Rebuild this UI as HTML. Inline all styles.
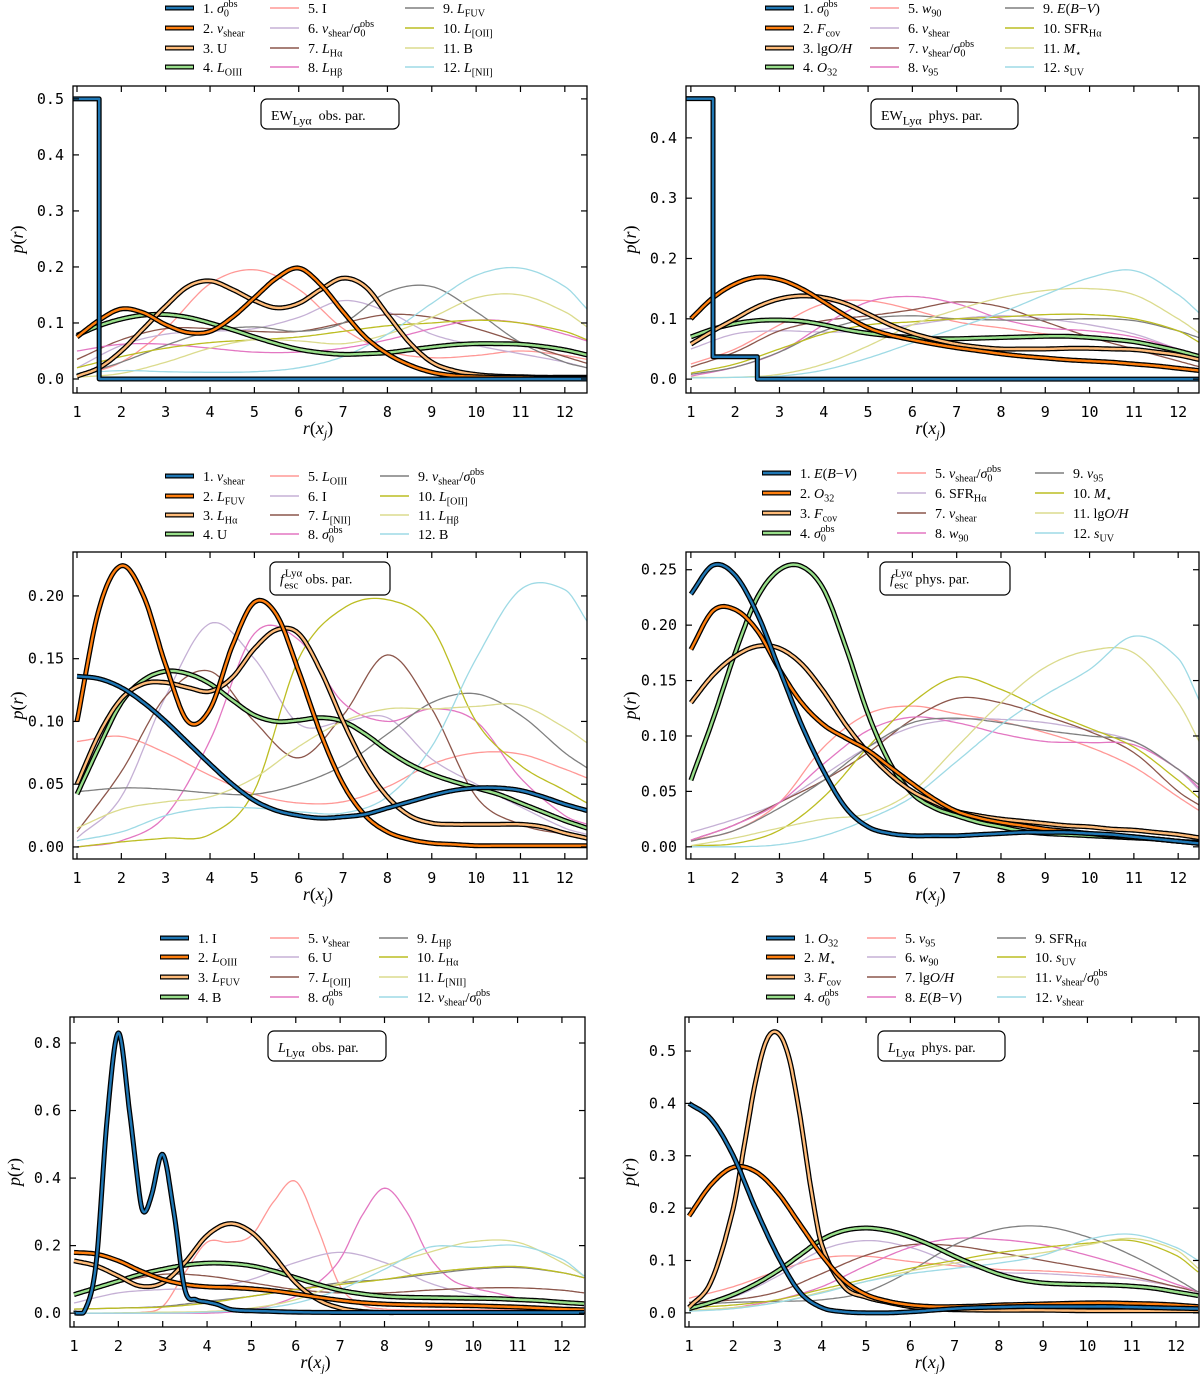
<!DOCTYPE html>
<html><head><meta charset="utf-8"><title>p(r) distributions</title>
<style>
html,body{margin:0;padding:0;background:#fff;}
svg{display:block;}
.tick{font-family:"DejaVu Sans Mono","Liberation Mono",monospace;font-size:15px;fill:#000;}
.lab{font-family:"Liberation Serif",serif;font-size:14px;fill:#000;}
.ax{font-family:"Liberation Serif",serif;font-size:18px;font-style:italic;fill:#000;}
</style></head>
<body>
<svg id="fig" width="1200" height="1374" viewBox="0 0 1200 1374" xmlns="http://www.w3.org/2000/svg"></svg>
<script>
// ---------- shared grids (data units) ----------
const HALF = [1,1.5,2,2.5,3,3.5,4,4.5,5,5.5,6,6.5,7,7.5,8,8.5,9,9.5,10,10.5,11,11.5,12,12.5];
const INT = [1,2,3,4,5,6,7,8,9,10,11,12,12.5];
const colors = ['#1f77b4','#ff7f0e','#ffbb78','#98df8a','#ff9896','#c5b0d5','#8c564b','#e377c2','#7f7f7f','#bcbd22','#dbdb8d','#9edae5'];

// ---------- Panel 1: EW obs ----------
const p1_labels = ['1. ~{σ}_{0}^{obs}','2. ~{v}_{shear}','3. U','4. ~{L}_{OIII}','5. I','6. ~{v}_{shear}/~{σ}_{0}^{obs}','7. ~{L}_{Hα}','8. ~{L}_{Hβ}','9. ~{L}_{FUV}','10. ~{L}_{[OII]}','11. B','12. ~{L}_{[NII]}'];
const p1_step_x = [0.8,1.5,12.6];
const p1_step_y = [0.5,0.0];
const p1_s2 = [0.075,0.105,0.125,0.118,0.097,0.083,0.085,0.11,0.145,0.18,0.198,0.168,0.12,0.075,0.045,0.025,0.012,0.006,0.004,0.003,0.003,0.002,0.002,0.002];
const p1_s3 = [0.005,0.02,0.05,0.09,0.13,0.165,0.175,0.16,0.14,0.127,0.135,0.16,0.18,0.165,0.115,0.065,0.03,0.015,0.008,0.005,0.004,0.003,0.003,0.003];
const p1_s4 = [0.078,0.095,0.107,0.114,0.115,0.11,0.1,0.088,0.075,0.063,0.053,0.047,0.044,0.045,0.047,0.052,0.057,0.061,0.063,0.063,0.062,0.058,0.052,0.043];
const p1_s5 = [0.005,0.03,0.09,0.17,0.195,0.16,0.09,0.05,0.038,0.042,0.05,0.042,0.035];
const p1_s6 = [0.02,0.06,0.08,0.085,0.09,0.11,0.14,0.12,0.08,0.06,0.045,0.03,0.02];
const p1_s7 = [0.035,0.07,0.09,0.09,0.085,0.085,0.1,0.115,0.11,0.09,0.065,0.04,0.028];
const p1_s8 = [0.05,0.062,0.062,0.055,0.048,0.048,0.055,0.07,0.09,0.105,0.1,0.08,0.068];
const p1_s9 = [0.005,0.03,0.06,0.085,0.093,0.085,0.1,0.155,0.165,0.12,0.065,0.03,0.02];
const p1_s10 = [0.02,0.04,0.055,0.065,0.07,0.075,0.085,0.095,0.1,0.105,0.1,0.085,0.07];
const p1_s11 = [0.003,0.01,0.03,0.055,0.07,0.068,0.063,0.08,0.11,0.145,0.15,0.12,0.093];
const p1_s12 = [0.01,0.015,0.013,0.012,0.013,0.02,0.04,0.08,0.135,0.185,0.198,0.165,0.125];
const p1_yticks = ['0.0','0.1','0.2','0.3','0.4','0.5'];

// ---------- Panel 2: EW phys ----------
const p2_labels = ['1. ~{σ}_{0}^{obs}','2. ~{F}_{cov}','3. lg~{O/H}','4. ~{O}_{32}','5. ~{w}_{90}','6. ~{v}_{shear}','7. ~{v}_{shear}/~{σ}_{0}^{obs}','8. ~{v}_{95}','9. ~{E}(~{B}−~{V})','10. SFR_{Hα}','11. ~{M}_{⋆}','12. ~{s}_{UV}'];
const p2_step_x = [0.8,1.5,2.5,12.6];
const p2_step_y = [0.465,0.037,0.0];
const p2_s2 = [0.1,0.135,0.158,0.169,0.165,0.15,0.128,0.105,0.085,0.073,0.065,0.058,0.052,0.047,0.042,0.038,0.035,0.032,0.03,0.028,0.025,0.022,0.018,0.014];
const p2_s3 = [0.058,0.08,0.1,0.12,0.133,0.138,0.135,0.125,0.108,0.09,0.076,0.066,0.058,0.053,0.05,0.05,0.05,0.051,0.051,0.05,0.049,0.045,0.04,0.032];
const p2_s4 = [0.07,0.083,0.092,0.097,0.098,0.096,0.09,0.082,0.076,0.072,0.069,0.067,0.067,0.068,0.069,0.07,0.071,0.071,0.069,0.066,0.062,0.055,0.047,0.037];
const p2_s5 = [0.025,0.05,0.09,0.125,0.13,0.115,0.095,0.085,0.075,0.07,0.06,0.045,0.035];
const p2_s6 = [0.05,0.075,0.08,0.078,0.08,0.09,0.1,0.105,0.1,0.09,0.075,0.05,0.04];
const p2_s7 = [0.02,0.045,0.08,0.097,0.105,0.115,0.128,0.12,0.095,0.07,0.05,0.03,0.02];
const p2_s8 = [0.005,0.02,0.045,0.09,0.128,0.137,0.125,0.1,0.085,0.08,0.07,0.05,0.04];
const p2_s9 = [0.008,0.02,0.045,0.08,0.1,0.105,0.1,0.098,0.098,0.1,0.097,0.08,0.068];
const p2_s10 = [0.01,0.025,0.05,0.075,0.09,0.095,0.1,0.103,0.107,0.107,0.1,0.08,0.06];
const p2_s11 = [0.003,0.003,0.008,0.025,0.055,0.09,0.115,0.135,0.147,0.15,0.14,0.1,0.075];
const p2_s12 = [0.002,0.003,0.005,0.015,0.035,0.06,0.085,0.11,0.14,0.168,0.18,0.14,0.108];
const p2_yticks = ['0.0','0.1','0.2','0.3','0.4'];

// ---------- Panel 3: fesc obs ----------
const p3_labels = ['1. ~{v}_{shear}','2. ~{L}_{FUV}','3. ~{L}_{Hα}','4. U','5. ~{L}_{OIII}','6. I','7. ~{L}_{[NII]}','8. ~{σ}_{0}^{obs}','9. ~{v}_{shear}/~{σ}_{0}^{obs}','10. ~{L}_{[OII]}','11. ~{L}_{Hβ}','12. B'];
const p3_s1 = [0.136,0.134,0.127,0.115,0.1,0.083,0.066,0.05,0.037,0.029,0.025,0.023,0.024,0.026,0.031,0.036,0.041,0.045,0.047,0.047,0.045,0.04,0.034,0.029];
const p3_s2 = [0.1,0.19,0.224,0.2,0.145,0.1,0.11,0.16,0.195,0.185,0.14,0.09,0.05,0.025,0.012,0.006,0.003,0.002,0.001,0.001,0.001,0.001,0.001,0.001];
const p3_s3 = [0.05,0.09,0.118,0.13,0.131,0.127,0.124,0.135,0.158,0.173,0.17,0.14,0.1,0.065,0.04,0.025,0.019,0.018,0.018,0.018,0.018,0.016,0.011,0.007];
const p3_s4 = [0.042,0.08,0.115,0.133,0.14,0.138,0.13,0.117,0.105,0.1,0.101,0.103,0.1,0.09,0.077,0.066,0.058,0.052,0.047,0.042,0.035,0.028,0.021,0.015];
const p3_s5 = [0.084,0.088,0.075,0.057,0.042,0.035,0.036,0.048,0.066,0.075,0.074,0.062,0.055];
const p3_s6 = [0.007,0.04,0.12,0.178,0.15,0.098,0.1,0.103,0.07,0.05,0.032,0.015,0.01];
const p3_s7 = [0.012,0.06,0.12,0.14,0.1,0.071,0.105,0.153,0.11,0.04,0.018,0.01,0.007];
const p3_s8 = [0.0,0.005,0.025,0.085,0.17,0.165,0.115,0.1,0.11,0.1,0.055,0.025,0.018];
const p3_s9 = [0.044,0.047,0.046,0.043,0.042,0.05,0.065,0.09,0.115,0.122,0.105,0.075,0.063];
const p3_s10 = [0.0,0.004,0.007,0.01,0.045,0.15,0.19,0.197,0.175,0.1,0.065,0.045,0.035];
const p3_s11 = [0.015,0.03,0.036,0.04,0.055,0.08,0.1,0.11,0.11,0.112,0.113,0.095,0.083];
const p3_s12 = [0.005,0.012,0.025,0.031,0.031,0.028,0.027,0.04,0.08,0.15,0.205,0.205,0.18];
const p3_yticks = ['0.00','0.05','0.10','0.15','0.20'];

// ---------- Panel 4: fesc phys ----------
const p4_labels = ['1. ~{E}(~{B}−~{V})','2. ~{O}_{32}','3. ~{F}_{cov}','4. ~{σ}_{0}^{obs}','5. ~{v}_{shear}/~{σ}_{0}^{obs}','6. SFR_{Hα}','7. ~{v}_{shear}','8. ~{w}_{90}','9. ~{v}_{95}','10. ~{M}_{⋆}','11. lg~{O/H}','12. ~{s}_{UV}'];
const p4_s1 = [0.228,0.254,0.245,0.21,0.16,0.11,0.068,0.035,0.018,0.012,0.01,0.01,0.01,0.011,0.012,0.013,0.013,0.013,0.012,0.011,0.009,0.007,0.005,0.003];
const p4_s2 = [0.178,0.213,0.214,0.195,0.16,0.13,0.11,0.098,0.087,0.072,0.057,0.043,0.032,0.026,0.022,0.019,0.016,0.014,0.012,0.01,0.009,0.007,0.005,0.003];
const p4_s3 = [0.13,0.155,0.172,0.181,0.179,0.165,0.14,0.11,0.085,0.065,0.05,0.04,0.032,0.028,0.025,0.023,0.021,0.019,0.018,0.016,0.015,0.013,0.011,0.008];
const p4_s4 = [0.06,0.115,0.175,0.225,0.25,0.253,0.232,0.18,0.12,0.075,0.048,0.035,0.028,0.022,0.018,0.014,0.012,0.011,0.01,0.009,0.008,0.007,0.005,0.004];
const p4_s5 = [0.006,0.015,0.04,0.09,0.12,0.127,0.12,0.113,0.103,0.09,0.072,0.045,0.032];
const p4_s6 = [0.013,0.025,0.04,0.065,0.09,0.108,0.115,0.115,0.112,0.105,0.095,0.07,0.05];
const p4_s7 = [0.006,0.02,0.04,0.06,0.085,0.115,0.134,0.13,0.118,0.104,0.085,0.05,0.037];
const p4_s8 = [0.006,0.02,0.04,0.075,0.105,0.117,0.112,0.102,0.095,0.094,0.092,0.07,0.052];
const p4_s9 = [0.005,0.015,0.035,0.06,0.09,0.112,0.116,0.112,0.105,0.1,0.095,0.07,0.055];
const p4_s10 = [0.001,0.003,0.015,0.045,0.09,0.13,0.153,0.142,0.123,0.107,0.09,0.06,0.043];
const p4_s11 = [0.001,0.008,0.017,0.025,0.03,0.05,0.09,0.13,0.162,0.177,0.175,0.13,0.093];
const p4_s12 = [0.0,0.0,0.002,0.01,0.025,0.045,0.077,0.11,0.137,0.16,0.19,0.17,0.13];
const p4_yticks = ['0.00','0.05','0.10','0.15','0.20','0.25'];

// ---------- Panel 5: L obs ----------
const p5_labels = ['1. I','2. ~{L}_{OIII}','3. ~{L}_{FUV}','4. B','5. ~{v}_{shear}','6. U','7. ~{L}_{[OII]}','8. ~{σ}_{0}^{obs}','9. ~{L}_{Hβ}','10. ~{L}_{Hα}','11. ~{L}_{[NII]}','12. ~{v}_{shear}/~{σ}_{0}^{obs}'];
const p5_s1_x = [1,1.25,1.5,1.75,2,2.25,2.5,2.6,2.75,3,3.25,3.5,3.75,4,4.25,4.5,4.75,5,6,7,8,9,10,11,12,12.5];
const p5_s1 = [0.0,0.01,0.15,0.58,0.83,0.6,0.33,0.3,0.35,0.47,0.3,0.07,0.04,0.033,0.025,0.012,0.008,0.007,0.003,0.002,0.002,0.002,0.002,0.002,0.002,0.002];
const p5_s2 = [0.18,0.175,0.155,0.125,0.1,0.085,0.078,0.076,0.072,0.066,0.057,0.047,0.038,0.031,0.027,0.025,0.024,0.023,0.022,0.02,0.018,0.015,0.012,0.01];
const p5_s3 = [0.155,0.14,0.11,0.08,0.09,0.15,0.23,0.265,0.24,0.17,0.09,0.04,0.015,0.005,0.002,0.002,0.002,0.002,0.002,0.002,0.002,0.002,0.002,0.002];
const p5_s4 = [0.055,0.075,0.095,0.115,0.13,0.142,0.148,0.147,0.14,0.125,0.105,0.085,0.068,0.057,0.05,0.047,0.046,0.045,0.044,0.043,0.04,0.037,0.032,0.028];
const p5_s5 = [0,0,0,0.002,0.02,0.12,0.21,0.21,0.23,0.33,0.39,0.25,0.08,0.025,0.012,0.01,0.01,0.01,0.01,0.01,0.01,0.01,0.008,0.006];
const p5_s6 = [0.03,0.06,0.07,0.075,0.1,0.15,0.18,0.15,0.09,0.055,0.04,0.03,0.025];
const p5_s7 = [0.055,0.09,0.115,0.11,0.09,0.07,0.06,0.06,0.068,0.074,0.075,0.068,0.06];
const p5_s8 = [0,0,0,0,0,0,0,0.003,0.01,0.025,0.05,0.09,0.16,0.29,0.37,0.3,0.17,0.1,0.075,0.06,0.045,0.035,0.028,0.022];
const p5_s9 = [0.012,0.015,0.02,0.035,0.05,0.07,0.09,0.1,0.115,0.13,0.135,0.12,0.105];
const p5_s10 = [0.012,0.015,0.018,0.03,0.05,0.07,0.085,0.1,0.12,0.133,0.138,0.12,0.105];
const p5_s11 = [0.0,0.001,0.003,0.005,0.015,0.04,0.09,0.14,0.18,0.212,0.21,0.15,0.11];
const p5_s12 = [0,0,0,0.003,0.01,0.03,0.07,0.13,0.195,0.195,0.2,0.16,0.11];
const p5_yticks = ['0.0','0.2','0.4','0.6','0.8'];

// ---------- Panel 6: L phys ----------
const p6_labels = ['1. ~{O}_{32}','2. ~{M}_{⋆}','3. ~{F}_{cov}','4. ~{σ}_{0}^{obs}','5. ~{v}_{95}','6. ~{w}_{90}','7. lg~{O/H}','8. ~{E}(~{B}−~{V})','9. SFR_{Hα}','10. ~{s}_{UV}','11. ~{v}_{shear}/~{σ}_{0}^{obs}','12. ~{v}_{shear}'];
const p6_s1 = [0.4,0.37,0.3,0.2,0.11,0.04,0.01,0.002,0.0,0.0,0.002,0.005,0.008,0.01,0.011,0.012,0.012,0.012,0.012,0.012,0.011,0.01,0.009,0.008];
const p6_s2 = [0.185,0.245,0.278,0.27,0.23,0.17,0.11,0.062,0.035,0.022,0.015,0.012,0.012,0.013,0.015,0.016,0.017,0.018,0.019,0.019,0.018,0.017,0.015,0.012];
const p6_s3_x = [1,1.5,2,2.25,2.5,2.75,3,3.25,3.5,3.75,4,4.5,5,5.5,6,6.5,7,8,9,10,11,12,12.5];
const p6_s3 = [0.01,0.06,0.2,0.32,0.44,0.52,0.535,0.49,0.38,0.24,0.13,0.05,0.03,0.02,0.012,0.008,0.006,0.005,0.005,0.004,0.004,0.004,0.004];
const p6_s4 = [0.008,0.02,0.035,0.055,0.08,0.11,0.14,0.157,0.162,0.157,0.145,0.128,0.108,0.09,0.074,0.063,0.057,0.055,0.054,0.053,0.051,0.047,0.04,0.033];
const p6_s5 = [0.028,0.05,0.08,0.105,0.108,0.098,0.09,0.083,0.08,0.075,0.065,0.05,0.04];
const p6_s6 = [0.01,0.03,0.07,0.12,0.138,0.125,0.095,0.078,0.075,0.07,0.065,0.05,0.04];
const p6_s7 = [0.02,0.025,0.04,0.075,0.11,0.13,0.128,0.115,0.1,0.085,0.07,0.05,0.04];
const p6_s8 = [0.005,0.01,0.025,0.05,0.09,0.125,0.142,0.14,0.13,0.11,0.085,0.055,0.04];
const p6_s9 = [0.015,0.02,0.022,0.025,0.04,0.08,0.13,0.16,0.165,0.145,0.11,0.065,0.04];
const p6_s10 = [0.01,0.015,0.025,0.045,0.065,0.085,0.1,0.115,0.125,0.133,0.138,0.11,0.078];
const p6_s11 = [0.005,0.01,0.02,0.04,0.06,0.08,0.095,0.105,0.115,0.13,0.142,0.12,0.085];
const p6_s12 = [0.003,0.008,0.02,0.038,0.06,0.075,0.085,0.095,0.11,0.14,0.15,0.125,0.1];
const p6_yticks = ['0.0','0.1','0.2','0.3','0.4','0.5'];

const xticks = ['1','2','3','4','5','6','7','8','9','10','11','12'];

// ---------- helpers ----------
const NS = 'http://www.w3.org/2000/svg';
const svg = document.getElementById('fig');
function mk(tag, attrs, parent) {
  const e = document.createElementNS(NS, tag);
  for (const k in attrs) e.setAttribute(k, attrs[k]);
  (parent || svg).appendChild(e);
  return e;
}
function smooth(xs, ys, n) {
  const m = xs.length, t = new Array(m);
  t[0] = (ys[1]-ys[0])/(xs[1]-xs[0]);
  t[m-1] = (ys[m-1]-ys[m-2])/(xs[m-1]-xs[m-2]);
  for (let i = 1; i < m - 1; i++) t[i] = (ys[i+1]-ys[i-1])/(xs[i+1]-xs[i-1]);
  const out = [];
  for (let i = 0; i < m - 1; i++) {
    const h = xs[i+1]-xs[i];
    for (let k = 0; k < n; k++) {
      const s = k/n, h00 = 2*s*s*s-3*s*s+1, h10 = s*s*s-2*s*s+s, h01 = -2*s*s*s+3*s*s, h11 = s*s*s-s*s;
      out.push([xs[i]+s*h, Math.max(0, h00*ys[i]+h10*h*t[i]+h01*ys[i+1]+h11*h*t[i+1])]);
    }
  }
  out.push([xs[m-1], ys[m-1]]);
  return out;
}
function richText(g, x, y, str, size) {
  const txt = mk('text', {x: x, y: y, 'class': 'lab', 'font-size': size}, g);
  const re = /(~\{[^}]*\})|(_\{[^}]*\})|(\^\{[^}]*\})|([^~_^]+)/g;
  let m, prevSub = 0;
  while ((m = re.exec(str)) !== null) {
    const tok = m[0];
    const sp = document.createElementNS(NS, 'tspan');
    if (tok[0] === '~') { sp.textContent = tok.slice(2,-1); sp.setAttribute('font-style','italic'); prevSub = 0; }
    else if (tok[0] === '_') { const s = tok.slice(2,-1); sp.textContent = s; sp.setAttribute('font-size', size*0.7); sp.setAttribute('dy', size*0.25); prevSub = s.length; }
    else if (tok[0] === '^') {
      const s = tok.slice(2,-1); sp.textContent = s; sp.setAttribute('font-size', size*0.7);
      if (prevSub) { sp.setAttribute('dx', -prevSub*size*0.38); sp.setAttribute('dy', -size*0.65); prevSub = -1; }
      else sp.setAttribute('dy', -size*0.4);
    }
    else {
      sp.textContent = tok;
      if (prevSub > 0) sp.setAttribute('dy', -size*0.25);
      else if (prevSub === -1) sp.setAttribute('dy', size*0.4);
      prevSub = 0;
    }
    txt.appendChild(sp);
  }
  return txt;
}

// ---------- panels ----------
const panels = [
  {id:'ew-obs', box:[73,86,587,393], xr:[0.91,12.5], yr:[-0.025,0.523], yt:p1_yticks, ys:0.1, tag:'EW_{Lyα}', tagTxt:'  obs. par.', tb:[261,99,138,30], leg:{cols:[165,270,405], rows:[8,28,48,67]}, labels:p1_labels,
   step:[p1_step_x,p1_step_y], bold:[null,[HALF,p1_s2],[HALF,p1_s3],[HALF,p1_s4]], faint:[[INT,p1_s5],[INT,p1_s6],[INT,p1_s7],[INT,p1_s8],[INT,p1_s9],[INT,p1_s10],[INT,p1_s11],[INT,p1_s12]]},
  {id:'ew-phys', box:[686,86,1199,393], xr:[0.89,12.47], yr:[-0.023,0.486], yt:p2_yticks, ys:0.1, tag:'EW_{Lyα}', tagTxt:'  phys. par.', tb:[871,99,147,30], leg:{cols:[765,870,1005], rows:[8,28,48,67]}, labels:p2_labels,
   step:[p2_step_x,p2_step_y], bold:[null,[HALF,p2_s2],[HALF,p2_s3],[HALF,p2_s4]], faint:[[INT,p2_s5],[INT,p2_s6],[INT,p2_s7],[INT,p2_s8],[INT,p2_s9],[INT,p2_s10],[INT,p2_s11],[INT,p2_s12]]},
  {id:'fesc-obs', box:[73,552,587,859], xr:[0.91,12.5], yr:[-0.0096,0.235], yt:p3_yticks, ys:0.05, tag:'fesc', tagTxt:'  obs. par.', tb:[270,562,120,33], leg:{cols:[165,270,380], rows:[476,496,515,534]}, labels:p3_labels,
   step:null, bold:[[HALF,p3_s1],[HALF,p3_s2],[HALF,p3_s3],[HALF,p3_s4]], faint:[[INT,p3_s5],[INT,p3_s6],[INT,p3_s7],[INT,p3_s8],[INT,p3_s9],[INT,p3_s10],[INT,p3_s11],[INT,p3_s12]]},
  {id:'fesc-phys', box:[686,552,1199,859], xr:[0.89,12.47], yr:[-0.011,0.266], yt:p4_yticks, ys:0.05, tag:'fesc', tagTxt:'  phys. par.', tb:[880,562,130,33], leg:{cols:[762,897,1035], rows:[473,493,513,533]}, labels:p4_labels,
   step:null, bold:[[HALF,p4_s1],[HALF,p4_s2],[HALF,p4_s3],[HALF,p4_s4]], faint:[[INT,p4_s5],[INT,p4_s6],[INT,p4_s7],[INT,p4_s8],[INT,p4_s9],[INT,p4_s10],[INT,p4_s11],[INT,p4_s12]]},
  {id:'l-obs', box:[70,1017,585,1327], xr:[0.91,12.52], yr:[-0.041,0.877], yt:p5_yticks, ys:0.2, tag:'~{L}_{Lyα}', tagTxt:'  obs. par.', tb:[268,1031,118,30], leg:{cols:[160,270,379], rows:[938,957,977,997]}, labels:p5_labels,
   step:null, bold:[[p5_s1_x,p5_s1],[HALF,p5_s2],[HALF,p5_s3],[HALF,p5_s4]], faint:[[HALF,p5_s5],[INT,p5_s6],[INT,p5_s7],[HALF,p5_s8],[INT,p5_s9],[INT,p5_s10],[INT,p5_s11],[INT,p5_s12]]},
  {id:'l-phys', box:[685,1017,1199,1327], xr:[0.91,12.52], yr:[-0.027,0.565], yt:p6_yticks, ys:0.1, tag:'~{L}_{Lyα}', tagTxt:'  phys. par.', tb:[878,1031,127,30], leg:{cols:[766,867,997], rows:[938,957,977,997]}, labels:p6_labels,
   step:null, bold:[[HALF,p6_s1],[HALF,p6_s2],[p6_s3_x,p6_s3],[HALF,p6_s4]], faint:[[INT,p6_s5],[INT,p6_s6],[INT,p6_s7],[INT,p6_s8],[INT,p6_s9],[INT,p6_s10],[INT,p6_s11],[INT,p6_s12]]}
];

panels.forEach((P, pi) => {
  const [L,T,R,B] = P.box;
  const g = mk('g', {});
  
  
  const sx = v => L + (v - P.xr[0]) / (P.xr[1]-P.xr[0]) * (R-L);
  const sy = v => B - (v - P.yr[0]) / (P.yr[1]-P.yr[0]) * (B-T);
  const cid = 'clip' + pi;
  const cp = mk('clipPath', {id: cid}, g);
  mk('rect', {x:L, y:T, width:R-L, height:B-T}, cp);
  const plot = mk('g', {'clip-path':'url(#'+cid+')'}, g);
  
  
  const pathOf = (xs, ys) => smooth(xs, ys, 16).map((p,i)=>(i?'L':'M')+sx(p[0]).toFixed(1)+','+sy(p[1]).toFixed(1)).join('');
  P.faint.forEach((s, i) => {
    const p = mk('path', {d: pathOf(s[0], s[1]), fill:'none', stroke: colors[i+4], 'stroke-width':1.3}, plot);
    
    
  });
  for (let i = 3; i >= 0; i--) {
    let d;
    if (i === 0 && P.step) {
      const xs = P.step[0], ys = P.step[1];
      d = 'M' + sx(xs[0]) + ',' + sy(ys[0]);
      for (let k = 0; k < ys.length; k++) {
        d += 'L' + sx(xs[k+1]) + ',' + sy(ys[k]);
        if (k+1 < ys.length) d += 'L' + sx(xs[k+1]) + ',' + sy(ys[k+1]);
      }
    } else d = pathOf(P.bold[i][0], P.bold[i][1]);
    const o = mk('path', {d:d, fill:'none', stroke:'#000', 'stroke-width':5, 'stroke-linejoin':'round'}, plot);
    
    
    const c = mk('path', {d:d, fill:'none', stroke: colors[i], 'stroke-width':2.4, 'stroke-linejoin':'round'}, plot);
    
    
  }
  const fr = mk('rect', {x:L, y:T, width:R-L, height:B-T, fill:'none', stroke:'#000', 'stroke-width':1.3}, g);
  
  
  xticks.forEach((lab, i) => {
    const v = i + 1, x = sx(v);
    mk('line', {x1:x, y1:B, x2:x, y2:B-6, stroke:'#000', 'stroke-width':1.2}, g);
    mk('line', {x1:x, y1:T, x2:x, y2:T+6, stroke:'#000', 'stroke-width':1.2}, g);
    const t = mk('text', {x:x, y:B+24, 'text-anchor':'middle', 'class':'tick'}, g);
    t.textContent = lab;
    
    
  });
  P.yt.forEach((lab, i) => {
    const y = sy(i * P.ys);
    mk('line', {x1:L, y1:y, x2:L+6, y2:y, stroke:'#000', 'stroke-width':1.2}, g);
    mk('line', {x1:R, y1:y, x2:R-6, y2:y, stroke:'#000', 'stroke-width':1.2}, g);
    const t = mk('text', {x:L-9, y:y+5, 'text-anchor':'end', 'class':'tick'}, g);
    t.textContent = lab;
    
    
  });
  const yl = mk('text', {x:0, y:0, 'class':'ax', transform:'translate('+(L-50)+','+((T+B)/2)+') rotate(-90)', 'text-anchor':'middle'}, g);
  yl.innerHTML = 'p<tspan font-style="normal">(</tspan>r<tspan font-style="normal">)</tspan>';
  
  
  const xl = mk('text', {x:(L+R)/2 - 12, y:B+41, 'class':'ax', 'text-anchor':'middle'}, g);
  xl.innerHTML = 'r<tspan font-style="normal">(</tspan>x<tspan font-size="12" dy="4">j</tspan><tspan font-style="normal" dy="-4">)</tspan>';
  
  
  const [bx,by,bw,bh] = P.tb;
  const ab = mk('rect', {x:bx, y:by, width:bw, height:bh, rx:6, fill:'#fff', stroke:'#000', 'stroke-width':1.2}, g);
  
  
  let at;
  if (P.tag === 'fesc') {
    at = mk('text', {x:bx+10, y:by+bh/2+5, 'class':'lab', 'font-size':17}, g);
    at.innerHTML = '<tspan font-style="italic">f</tspan><tspan font-size="11" dx="1" dy="-7">Lyα</tspan><tspan font-size="11" dx="-18" dy="12">esc</tspan><tspan dy="-5">' + P.tagTxt.replace(/ /g,'\u00a0') + '</tspan>';
  } else {
    at = richText(g, bx+10, by+bh/2+6, P.tag + P.tagTxt.replace(/ /g,'\u00a0'), 17);
  }
  
  
  const lg = mk('g', {}, g);
  
  
  P.labels.forEach((lab, i) => {
    const col = Math.floor(i/4), row = i % 4;
    const x = P.leg.cols[col], y = P.leg.rows[row];
    const e = mk('g', {}, lg);
    
    
    if (i < 4) {
      mk('line', {x1:x, y1:y, x2:x+29, y2:y, stroke:'#000', 'stroke-width':5}, e);
      mk('line', {x1:x+1, y1:y, x2:x+28, y2:y, stroke:colors[i], 'stroke-width':2.4}, e);
    } else {
      mk('line', {x1:x, y1:y, x2:x+29, y2:y, stroke:colors[i], 'stroke-width':1.5}, e);
    }
    richText(e, x+38, y+5, lab, 14.5);
  });
});
</script>
</body></html>
